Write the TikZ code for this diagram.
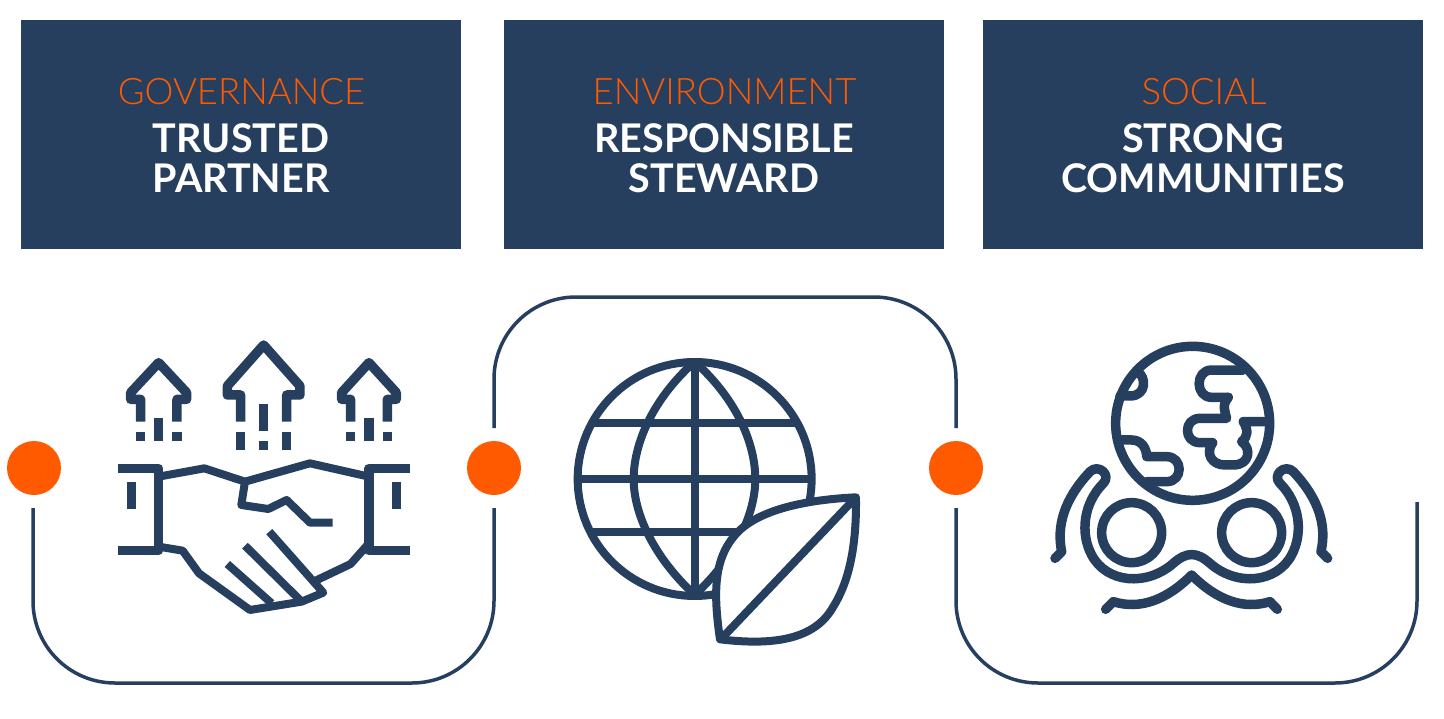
\documentclass[tikz,border=0pt]{standalone}
\usepackage{fontspec}
\setmainfont{Lato}
\newfontfamily\thinfont{Lato Light}
\newfontfamily\boldfont{Lato Bold}
\definecolor{navy}{HTML}{273F5E}
\definecolor{dotorange}{HTML}{FF5A00}
\tikzset{
  banner/.style={fill=navy,minimum width=440pt,minimum height=229pt,inner sep=0pt},
  headword/.style={text=dotorange,font=\thinfont\fontsize{36.5}{36}\selectfont,inner sep=0pt},
  mainword/.style={text=white,font=\boldfont\fontsize{39.5}{40}\selectfont,align=center,inner sep=0pt},
  dot/.style={fill=dotorange,shape=circle,minimum size=54pt,inner sep=0pt},
  frame/.style={navy,line width=3.5pt,rounded corners=82pt},
  icon/.style={navy,line width=9.5pt,line join=round},
  iconthin/.style={navy,line width=8pt,line join=round},
  iconround/.style={navy,line width=9.5pt,line join=round,line cap=round}
}
\begin{document}
\begin{tikzpicture}[x=1pt,y=-1pt]
      \useasboundingbox (0,0) rectangle (1444,718) ;
      % banners
      \node[banner] (govbox) at (241,134.5) {} ;
      \node[banner] (envbox) at (724,134.5) {} ;
      \node[banner] (socbox) at (1203,134.5) {} ;
      \node[headword] (govhead) at (241.5,92) {GOVERNANCE} ;
      \node[headword] (envhead) at (724.5,92) {ENVIRONMENT} ;
      \node[headword] (sochead) at (1204,92) {SOCIAL} ;
      \node[mainword] (govtext) at (241,158) {TRUSTED\\PARTNER} ;
      \node[mainword] (envtext) at (724,158) {RESPONSIBLE\\STEWARD} ;
      \node[mainword] (soctext) at (1203,158) {STRONG\\COMMUNITIES} ;
      % dots
      \node[dot] (dotA) at (34,468) {} ;
      \node[dot] (dotB) at (494,468) {} ;
      \node[dot] (dotC) at (956,468) {} ;
      % frames
      \coordinate (startA) at (33,508) ;
      \coordinate (startB) at (494,508) ;
      \coordinate (topB) at (494,428) ;
      \coordinate (topC) at (956,428) ;
      \coordinate (startC) at (956,508) ;
      \coordinate (endC) at (1417,502) ;
      \draw[frame] (startA) |- (264,683) -| (startB) ;
      \draw[frame] (topB) |- (725,297) -| (topC) ;
      \draw[frame] (startC) |- (1186,683) -| (endC) ;
      % handshake
      \begin{scope}[shift={(0,320)},x=0.3333pt,y=-0.3333pt]
        \draw[icon] (422,305)--(422,238)--(392,238)--(392,218)--(476,128)--(560,218)--(560,238)--(531,238)--(531,305) ;
        \draw[icon] (722,305)--(722,225)--(682,225)--(682,198)--(791,75)--(900,198)--(900,225)--(860,225)--(860,305) ;
        \draw[icon] (1052,305)--(1052,238)--(1025,238)--(1025,218)--(1107,128)--(1189,218)--(1189,238)--(1162,238)--(1162,305) ;
        \foreach \xa in {422,531,1052,1162} \draw[icon] (\xa,335)--(\xa,362) ;
        \foreach \xa in {476,1107} \draw[icon] (\xa,293)--(\xa,362) ;
        \foreach \xa in {722,860} \draw[icon] (\xa,335)--(\xa,390) ;
        \draw[icon] (791,252)--(791,333) ;
        \draw[icon] (791,362)--(791,390) ;
        \draw[icon] (353,445)--(476,445)--(476,692)--(353,692) ;
        \draw[icon] (1231,445)--(1107,445)--(1107,692)--(1231,692) ;
        \draw[icon] (394,485)--(394,568) ;
        \draw[icon] (1189,485)--(1189,568) ;
        \draw[iconthin] (476,470)--(613,445)--(735,485)--(930,430)--(1107,470) ;
        \draw[iconthin] (735,485)--(724,555)--(805,567)--(860,540)--(930,608)--(998,608) ;
        \draw[iconthin] (476,680)--(548,692)--(597,760)--(750,870)--(905,845)--(970,818)--(808,635) ;
        \draw[iconthin] (905,845)--(735,677) ;
        \draw[iconthin] (815,850)--(682,732) ;
        \draw[iconthin] (947,782)--(1052,732)--(1107,670) ;
      \end{scope}
      % globe and leaf
      \begin{scope}[shift={(480,290)},x=0.3333pt,y=-0.3333pt]
        \draw[iconthin] (644,567) circle[x radius=351,y radius=351] ;
        \draw[iconthin] (644,215)--(644,920) ;
        \draw[iconthin] (644,215) .. controls (510,335) and (461,470) .. (461,567) .. controls (461,670) and (520,800) .. (644,915) ;
        \draw[iconthin] (644,215) .. controls (778,335) and (826,470) .. (826,567) .. controls (826,670) and (768,800) .. (644,915) ;
        \draw[iconthin] (340,398)--(950,398) ;
        \draw[iconthin] (293,567)--(995,567) ;
        \draw[iconthin] (340,727)--(800,727) ;
        \draw[iconthin,fill=white] (1128,622) .. controls (960,630) and (830,665) .. (770,730) .. controls (700,805) and (700,910) .. (720,1048) .. controls (900,1070) and (1010,1040) .. (1060,950) .. controls (1110,870) and (1130,760) .. (1128,622) -- cycle ;
        \draw[iconthin] (1128,622)--(730,1040) ;
      \end{scope}
      % earth and hands
      \begin{scope}[shift={(950,320)},x=0.3333pt,y=-0.3333pt]
        \draw[icon] (728,310) circle[x radius=231,y radius=231] ;
        \draw[icon] (545,638) circle[x radius=90,y radius=90] ;
        \draw[icon] (905,638) circle[x radius=90,y radius=90] ;
        \draw[iconround] (880,150)--(785,150) .. controls (735,150) and (735,232) .. (785,232)--(835,232) ;
        \draw[iconround] (835,232) .. controls (815,255) and (825,275) .. (830,295)--(750,295) .. controls (700,295) and (700,368) .. (750,368)--(788,368) .. controls (765,400) and (785,435) .. (825,435)--(850,435) .. controls (900,435) and (905,385) .. (875,365) .. controls (895,350) and (895,330) .. (880,305)--(945,305) ;
        \draw[iconround] (510,228)--(540,228) .. controls (590,228) and (590,170) .. (562,155) ;
        \draw[iconround] (515,360)--(545,360) .. controls (575,360) and (590,385) .. (590,410)--(650,410) .. controls (700,410) and (700,485) .. (650,485)--(590,485) ;
        \draw[iconround] (315,715)--(335,695) .. controls (320,620) and (340,540) .. (420,455) .. controls (445,430) and (485,465) .. (460,490) .. controls (400,550) and (390,640) .. (425,705) .. controls (470,790) and (590,800) .. (670,730) .. controls (710,695) and (740,695) .. (780,730) .. controls (860,800) and (980,790) .. (1025,705) .. controls (1060,640) and (1050,550) .. (990,490) .. controls (965,465) and (1005,430) .. (1030,455) .. controls (1110,540) and (1130,620) .. (1113,695)--(1133,715) ;
        \draw[iconround] (467,868)--(490,845) .. controls (570,870) and (650,840) .. (725,765) .. controls (800,840) and (880,870) .. (960,845)--(982,868) ;
      \end{scope}
    \end{tikzpicture}
\end{document}
